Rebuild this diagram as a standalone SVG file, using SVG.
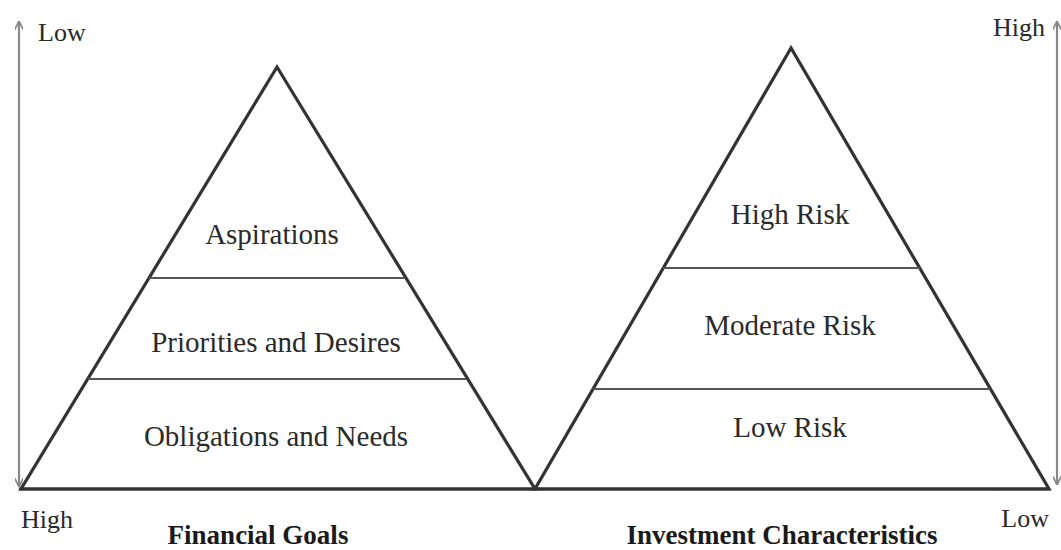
<svg xmlns="http://www.w3.org/2000/svg" width="1061" height="550" viewBox="0 0 1061 550">
<style>
.pyr{fill:none;stroke:#333;stroke-width:3.2;stroke-linejoin:miter}
.div{stroke:#555;stroke-width:2}
.lbl{font-family:"Liberation Serif","Times New Roman",serif;font-size:29px;fill:#2a2a2a;text-anchor:middle}
.ax{font-family:"Liberation Serif","Times New Roman",serif;font-size:26px;fill:#2a2a2a}
.ttl{font-family:"Liberation Serif","Times New Roman",serif;font-size:27px;font-weight:bold;fill:#1a1a1a;text-anchor:middle}
.arr{stroke:#888;stroke-width:2.2;fill:none}
</style>
<defs>
<marker id="ah" viewBox="0 0 10 10" refX="9" refY="5" markerWidth="4" markerHeight="4" orient="auto-start-reverse">
<path d="M0,0 L10,5 L0,10" fill="none" stroke="#888" stroke-width="2"/>
</marker>
</defs>
<g id="connectors">
<line class="arr" x1="19" y1="486" x2="19" y2="22" marker-start="url(#ah)" marker-end="url(#ah)"/>
<line class="arr" x1="1057" y1="484" x2="1057" y2="22" marker-start="url(#ah)" marker-end="url(#ah)"/>
</g>
<g id="baseline">
<line x1="19" y1="489" x2="1050" y2="489" stroke="#333" stroke-width="3.2"/>
</g>
<g id="financial-goals">
<polygon class="pyr" points="277,67 21,489 535,489"/>
<line class="div" x1="149" y1="278" x2="405" y2="278"/>
<line class="div" x1="88" y1="379" x2="466" y2="379"/>
<text class="lbl" x="272" y="244">Aspirations</text>
<text class="lbl" x="276" y="352">Priorities and Desires</text>
<text class="lbl" x="276" y="446">Obligations and Needs</text>
<text class="ttl" x="258" y="544">Financial Goals</text>
</g>
<g id="investment-characteristics">
<polygon class="pyr" points="791,48 535,489 1049,489"/>
<line class="div" x1="663" y1="268" x2="920" y2="268"/>
<line class="div" x1="593" y1="389" x2="990" y2="389"/>
<text class="lbl" x="790" y="224">High Risk</text>
<text class="lbl" x="790" y="335">Moderate Risk</text>
<text class="lbl" x="790" y="437">Low Risk</text>
<text class="ttl" x="782" y="544">Investment Characteristics</text>
</g>
<g id="axis-labels">
<text class="ax" x="38" y="41">Low</text>
<text class="ax" x="1045" y="36" text-anchor="end">High</text>
<text class="ax" x="21" y="528">High</text>
<text class="ax" x="1049" y="527" text-anchor="end">Low</text>
</g>
</svg>
